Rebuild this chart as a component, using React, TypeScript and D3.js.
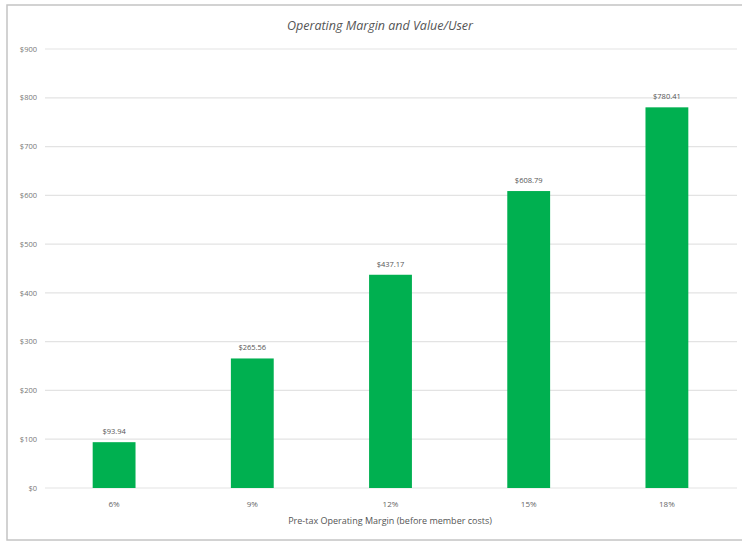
import React from "react";
import * as d3 from "d3";

const categories = ["6%", "9%", "12%", "15%", "18%"];
const values = [93.94, 265.56, 437.17, 608.79, 780.41];
const yTicks = [0, 100, 200, 300, 400, 500, 600, 700, 800, 900];
const title = "Operating Margin and Value/User";
const xTitle = "Pre-tax Operating Margin (before member costs)";

export default function App() {
  const W = 742, H = 542;
  const left = 45, right = 736, top = 49, bottom = 488;
  const x = d3.scaleBand<string>().domain(categories).range([left, right]).paddingInner(0.69).paddingOuter(0.345);
  const y = d3.scaleLinear().domain([0, 900]).range([bottom, top]);
  const font = "'Open Sans', 'Noto Sans', sans-serif";
  const fmt = (v: number) => (v === 0 ? "$0" : "$" + d3.format("d")(v));
  return (
    <svg width={W} height={H} style={{ position: "absolute", left: 0, top: 0, background: "#fff" }} fontFamily={font}>
      <rect x={0} y={0} width={W} height={H} fill="#fff" />
      <rect x={7} y={5} width={745} height={535} fill="#fff" stroke="#c4c4c4" strokeWidth={1.5} />
      <text x={380} y={30} textAnchor="middle" fontSize={12.5} fontStyle="italic" fill="#555">{title}</text>
      {yTicks.map((t) => (
        <g key={t}>
          <line x1={left} x2={737} y1={y(t)} y2={y(t)} stroke="#e3e3e3" strokeWidth={1.2} />
          <text x={37} y={y(t)} dy="0.35em" textAnchor="end" fontSize={7.5} fill="#777">{fmt(t)}</text>
        </g>
      ))}
      {categories.map((c, i) => (
        <g key={c}>
          <rect x={x(c)!} y={y(values[i])} width={x.bandwidth()} height={y(0) - y(values[i])} fill="#00b050" />
          <text x={x(c)! + x.bandwidth() / 2} y={y(values[i]) - 8} textAnchor="middle" fontSize={7.5} fill="#555">
            {"$" + values[i].toFixed(2)}
          </text>
          <text x={x(c)! + x.bandwidth() / 2} y={507} textAnchor="middle" fontSize={8} fill="#666">{c}</text>
        </g>
      ))}
      <text x={390} y={524} textAnchor="middle" fontSize={9} fill="#555">{xTitle}</text>
    </svg>
  );
}
